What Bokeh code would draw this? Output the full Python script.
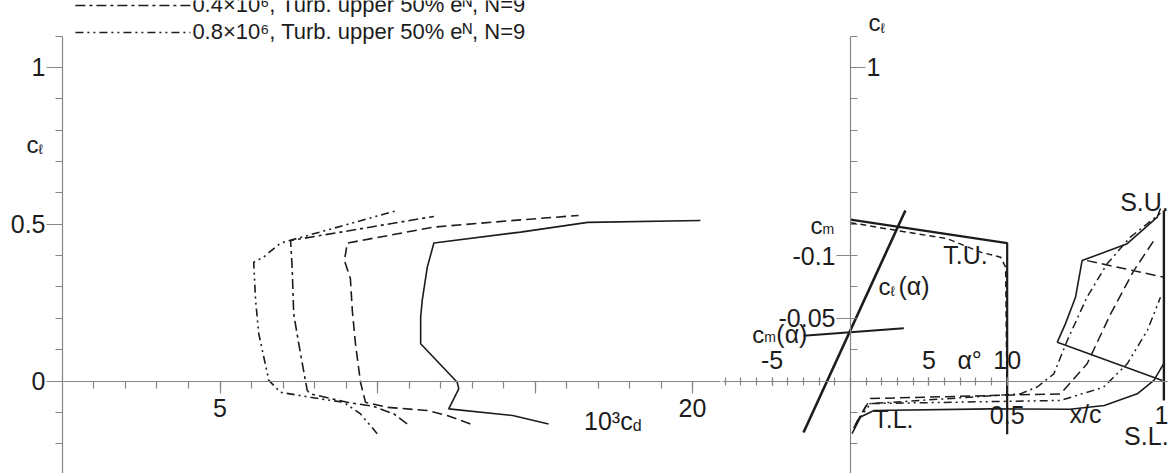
from bokeh.plotting import figure
from bokeh.models import Range1d, LinearAxis, FixedTicker
from bokeh.core.properties import value
from bokeh.embed import file_html
from bokeh.resources import INLINE

FONT = "Liberation Sans"
INK = "#1c1c1c"
AXIS_INK = "#858585"

# ---------------- drag polars: 10^3 c_d against c_l ----------------
cd_re01 = [15.43, 14.29, 12.26, 12.58, 12.53, 11.37, 11.37, 11.42, 11.58, 11.79, 14.54, 16.67, 20.25]
cl_re01 = [-0.137, -0.110, -0.089, -0.025, -0.004, 0.119, 0.204, 0.257, 0.363, 0.440, 0.475, 0.506, 0.512]
cd_re02 = [12.95, 12.21, 11.58, 10.31, 9.62, 9.46, 9.30, 9.20, 9.14, 8.95, 9.04, 11.79, 14.54, 16.38]
cl_re02 = [-0.137, -0.110, -0.094, -0.084, -0.068, -0.004, 0.119, 0.225, 0.326, 0.384, 0.440, 0.491, 0.514, 0.528]
cd_re04 = [10.94, 10.52, 9.88, 9.04, 7.87, 7.77, 7.71, 7.50, 7.34, 7.29, 7.24, 11.79]
cl_re04 = [-0.137, -0.105, -0.081, -0.068, -0.041, -0.030, 0.002, 0.119, 0.214, 0.363, 0.448, 0.525]
cd_re08 = [9.99, 9.46, 8.93, 7.87, 6.92, 6.55, 6.23, 6.13, 6.07, 6.38, 6.92, 10.63]
cl_re08 = [-0.168, -0.105, -0.068, -0.052, -0.036, 0.002, 0.151, 0.257, 0.379, 0.395, 0.440, 0.544]

legend_labels = [
    "0.4×10⁶, Turb. upper 50% eᴺ, N=9",
    "0.8×10⁶, Turb. upper 50% eᴺ, N=9",
]

# ---------------- lift and moment against angle of attack ----------------
alpha_lift = [-3.0, 3.5]
cl_lift = [-0.164, 0.544]
alpha_moment = [-3.0, 3.4]
cm_moment = [-0.036, -0.042]

# ---------------- transition / separation positions x/c against c_l ----------------
xc_tu_a = [0.0, 0.5, 0.5]
cl_tu_a = [0.515, 0.44, -0.17]
xc_tu_b = [0.0, 0.149, 0.309, 0.415, 0.479, 0.495, 0.5]
cl_tu_b = [0.505, 0.48, 0.454, 0.411, 0.395, 0.363, -0.10]

xc_tl_a = [0.005, 0.032, 0.075, 0.45, 0.70, 0.81, 0.915, 0.968, 1.0]
cl_tl_a = [-0.168, -0.115, -0.094, -0.089, -0.090, -0.078, -0.041, 0.002, 0.056]
xc_tl_b = [0.01, 0.053, 0.542, 0.596, 0.649, 0.692, 0.755, 0.819, 0.893, 0.989]
cl_tl_b = [-0.150, -0.073, -0.041, -0.019, 0.023, 0.130, 0.268, 0.374, 0.459, 0.535]
xc_tl_c = [0.015, 0.064, 0.670, 0.755, 0.830, 0.904, 0.968]
cl_tl_c = [-0.140, -0.056, -0.041, 0.055, 0.214, 0.352, 0.448]
xc_tl_d = [0.02, 0.064, 0.670, 0.807, 0.883, 0.947, 0.989]
cl_tl_d = [-0.130, -0.072, -0.062, -0.020, 0.055, 0.161, 0.267]

xc_su = [0.989, 0.979, 0.883, 0.739, 0.718, 0.686, 0.660, 0.995]
cl_su = [0.550, 0.523, 0.438, 0.384, 0.267, 0.183, 0.124, 0.002]
xc_su_b = [0.755, 1.0]
cl_su_b = [0.384, 0.331]
xc_te = [1.0, 1.0]
cl_te = [0.544, -0.062]

# axis ticks
cl_minor = [round(-0.2 + 0.1 * i, 1) for i in range(14)]
cd_minor = list(range(1, 21))
alpha_minor = list(range(-8, 11))

p = figure(width=1168, height=473,
           x_range=Range1d(-1.968, 35.11), y_range=Range1d(-0.295, 1.2137),
           output_backend="svg", toolbar_location=None, min_border=0,
           x_axis_location=None, y_axis_location=None, outline_line_color=None)
p.title.visible = False
p.grid.visible = False
p.extra_x_ranges = {"alpha": Range1d(-54.24, 20.29), "xc": Range1d(-2.712, 1.0147)}
p.extra_y_ranges = {"cm": Range1d(0.07376, -0.3034)}


def style_axis(ax):
    ax.axis_line_color = AXIS_INK
    ax.axis_line_width = 1.2
    ax.major_tick_line_color = AXIS_INK
    ax.minor_tick_line_color = AXIS_INK
    ax.major_tick_line_width = 1.2
    ax.minor_tick_line_width = 1.2
    ax.major_label_text_font = FONT
    ax.major_label_text_font_size = "25px"
    ax.major_label_text_color = INK


# left c_l axis
ax = LinearAxis(fixed_location=0, ticker=FixedTicker(ticks=[0, 0.5, 1], minor_ticks=cl_minor),
                bounds=(-0.3, 1.1), major_label_overrides={0: "0", 0.5: "0.5", 1: "1"})
style_axis(ax)
ax.major_tick_out, ax.major_tick_in, ax.minor_tick_out, ax.minor_tick_in = 16, 0, 7, 0
ax.major_label_standoff = 1
p.add_layout(ax, "left")

# 10^3 c_d axis
ax = LinearAxis(fixed_location=0, ticker=FixedTicker(ticks=[5, 10, 15, 20], minor_ticks=cd_minor),
                bounds=(-0.2, 20.9), major_label_overrides={5: "5", 10: "", 15: "", 20: "20"})
style_axis(ax)
ax.major_tick_out, ax.major_tick_in, ax.minor_tick_out, ax.minor_tick_in = 12, 0, 7, 0
ax.major_label_standoff = 6
p.add_layout(ax, "below")

# alpha axis
ax = LinearAxis(x_range_name="alpha", fixed_location=0,
                ticker=FixedTicker(ticks=[-5, 5, 10], minor_ticks=alpha_minor),
                bounds=(-8.2, 20.3), major_label_overrides={-5: "-5", 5: "5", 10: "10"})
style_axis(ax)
ax.major_tick_out, ax.major_tick_in, ax.minor_tick_out, ax.minor_tick_in = 4, 4, 4, 4
ax.major_label_standoff = 8
p.add_layout(ax, "above")

# x/c labels
ax = LinearAxis(x_range_name="xc", fixed_location=0, ticker=FixedTicker(ticks=[0.5, 1.0], minor_ticks=[]),
                major_label_overrides={0.5: "0.5", 1.0: "1"})
style_axis(ax)
ax.axis_line_color = None
ax.major_tick_line_color = None
ax.major_label_standoff = 19
p.add_layout(ax, "below")

# right c_l axis
ax = LinearAxis(x_range_name="alpha", fixed_location=0, ticker=FixedTicker(ticks=[1], minor_ticks=cl_minor),
                bounds=(-0.3, 1.1), major_label_overrides={1: "1"})
style_axis(ax)
ax.major_tick_out, ax.major_tick_in, ax.minor_tick_out, ax.minor_tick_in = 15, 0, 7, 0
ax.major_label_standoff = 1
p.add_layout(ax, "right")

# c_m axis
ax = LinearAxis(x_range_name="alpha", y_range_name="cm", fixed_location=0,
                ticker=FixedTicker(ticks=[-0.1, -0.05], minor_ticks=[]),
                major_label_overrides={-0.1: "-0.1", -0.05: "-0.05"})
style_axis(ax)
ax.axis_line_color = None
ax.major_tick_out, ax.major_tick_in = 14, 0
ax.major_label_standoff = 1
p.add_layout(ax, "left")

# drag polars
lw = 1.6
DASH_04 = "10 4 3 4"
DASH_08 = "8 4 2 4 2 4"
p.line(cd_re01, cl_re01, line_color=INK, line_width=lw)
p.line(cd_re02, cl_re02, line_color=INK, line_width=lw, line_dash="10 5")
p.line(cd_re04, cl_re04, line_color=INK, line_width=lw, line_dash=DASH_04)
p.line(cd_re08, cl_re08, line_color=INK, line_width=lw, line_dash=DASH_08)

# lift and moment curves
p.line(alpha_lift, cl_lift, x_range_name="alpha", line_color=INK, line_width=2.6)
p.line(alpha_moment, cm_moment, x_range_name="alpha", y_range_name="cm", line_color=INK, line_width=2.0)

# transition and separation
p.line(xc_tu_a, cl_tu_a, x_range_name="xc", line_color=INK, line_width=2.2)
p.line(xc_tu_b, cl_tu_b, x_range_name="xc", line_color=INK, line_width=1.5, line_dash="6 4")
p.line(xc_tl_a, cl_tl_a, x_range_name="xc", line_color=INK, line_width=1.6)
p.line(xc_tl_b, cl_tl_b, x_range_name="xc", line_color=INK, line_width=1.5, line_dash="8 4 2 4")
p.line(xc_tl_c, cl_tl_c, x_range_name="xc", line_color=INK, line_width=1.5, line_dash="10 5")
p.line(xc_tl_d, cl_tl_d, x_range_name="xc", line_color=INK, line_width=1.5, line_dash="8 4 2 4 2 4")
p.line(xc_su, cl_su, x_range_name="xc", line_color=INK, line_width=1.6)
p.line(xc_su_b, cl_su_b, x_range_name="xc", line_color=INK, line_width=1.5, line_dash="10 5")
p.line(xc_te, cl_te, x_range_name="xc", line_color=INK, line_width=2.4)

# key in the top-left corner: sample line plus its caption, one row per Reynolds number
key_x0, key_x1 = 0.41, 4.06
key_rows = [1.1978, 1.1116]
for row_y, dash, caption in zip(key_rows, [DASH_04, DASH_08], legend_labels):
    p.line([key_x0, key_x1], [row_y, row_y], line_color=INK, line_width=lw, line_dash=dash)
    p.text(x=[key_x1], y=[row_y], text=[caption], text_font=value(FONT), text_font_size="22px",
           text_align="left", text_baseline="middle", text_color=INK, x_offset=2, y_offset=-1)

RAISE = -8  # screen-pixel lift applied to every free label


def label(txt, x, y, size=25, align="left", xr="default", yr="default", dx=0, dy=0):
    p.text(x=[x], y=[y], text=[txt], text_font=value(FONT), text_font_size=f"{size}px",
           text_align=align, text_baseline="alphabetic", text_color=INK,
           x_offset=dx, y_offset=dy + RAISE, x_range_name=xr, y_range_name=yr)


# symbol labels, subscripts drawn as separate smaller texts
label("c", -0.76, 0.729, size=24, align="right")
label("ℓ", -0.76, 0.729, size=14, dy=5)
label("10³c", 18.1, -0.1515, align="right")
label("d", 18.1, -0.1515, size=16, dy=5)

label("c", 1.91, 1.118, size=24, align="right", xr="alpha")
label("ℓ", 1.91, 1.118, size=14, dy=5, xr="alpha")
label("c", -1.79, 0.47, size=24, align="right", xr="alpha")
label("m", -1.79, 0.47, size=14, dy=3, xr="alpha")
label("c", 2.55, 0.276, size=24, align="right", xr="alpha")
label("ℓ", 2.55, 0.276, size=14, dy=5, xr="alpha")
label("(α)", 2.55, 0.276, dx=8, xr="alpha")
label("c", -5.5, 0.123, size=24, align="right", xr="alpha")
label("m", -5.5, 0.123, size=14, dy=3, xr="alpha")
label("(α)", -5.5, 0.123, dx=12, xr="alpha")
label("α°", 7.6, 0.04, align="center", xr="alpha")

label("T.U.", 0.367, 0.378, align="center", xr="xc")
label("T.L.", 0.137, -0.148, align="center", xr="xc")
label("x/c", 0.75, -0.132, align="center", xr="xc")
label("S.U.", 0.938, 0.544, align="center", xr="xc")
label("S.L.", 0.944, -0.2, align="center", xr="xc")

open("out.html", "w").write(file_html(p, INLINE))
